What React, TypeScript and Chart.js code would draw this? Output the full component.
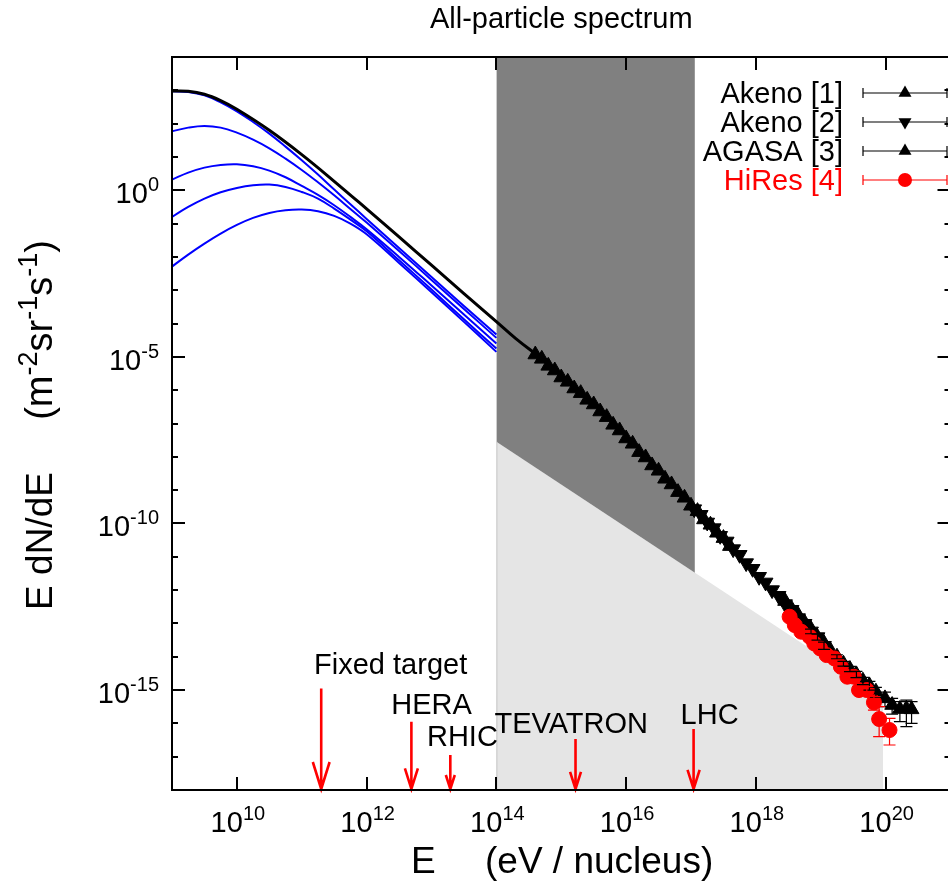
import { useEffect, useRef } from "react";
import { Chart, registerables } from "chart.js";

Chart.register(...registerables);

const FONT = '"Liberation Sans", Arial, Helvetica, sans-serif';

const titleText = "All-particle spectrum";
const xTitleSymbol = "E";
const xTitleUnit = "(eV / nucleus)";
const yTitleMain = "E dN/dE";

// axis ranges (log10)
const xLogMin = 9;
const xLogMax = 21;
const yLogMin = -18;
const yLogMax = 4;

// tick labels (exponents of 10)
const xTickExps = [10, 12, 14, 16, 18, 20];
const yTickExps = [-15, -10, -5, 0];

// total flux model (log10 E, log10 E dN/dE)
const totalLogE = [9.0, 9.25, 9.5, 9.75, 10.0, 10.5, 11.0, 11.5, 12.0, 12.5, 13.0, 13.5, 14.0, 14.3, 14.65];
const totalLogF = [2.98, 2.97, 2.88, 2.69, 2.43, 1.8, 1.07, 0.27, -0.56, -1.4, -2.25, -3.1, -3.94, -4.45, -4.98];

// component curves (blue)
const compLogE = [9.0, 9.25, 9.5, 9.75, 10.0, 10.25, 10.5, 10.75, 11.0, 11.25, 11.5, 11.75, 12.0, 12.5, 13.0, 13.5, 14.0];
const comp1LogF = [2.97, 2.95, 2.85, 2.64, 2.37, 2.05, 1.7, 1.31, 0.9, 0.47, 0.02, -0.42, -0.86, -1.73, -2.6, -3.47, -4.33];
const comp2LogF = [1.77, 1.88, 1.93, 1.88, 1.73, 1.52, 1.26, 0.95, 0.61, 0.24, -0.15, -0.56, -0.97, -1.82, -2.69, -3.56, -4.43];
const comp3LogF = [0.32, 0.53, 0.68, 0.76, 0.78, 0.72, 0.59, 0.39, 0.13, -0.14, -0.45, -0.8, -1.17, -2.0, -2.86, -3.73, -4.6];
const comp4LogF = [-0.8, -0.5, -0.25, -0.06, 0.07, 0.15, 0.17, 0.1, -0.05, -0.25, -0.55, -0.88, -1.23, -2.1, -2.98, -3.87, -4.75];
const comp5LogF = [-2.29, -1.93, -1.6, -1.3, -1.04, -0.83, -0.68, -0.6, -0.58, -0.63, -0.77, -1.0, -1.32, -2.18, -3.06, -3.95, -4.85];

// Akeno [1]
const akeno1LogE = [14.6, 14.7, 14.8, 14.9, 15.0, 15.1, 15.2, 15.3, 15.4, 15.5, 15.6, 15.7, 15.8, 15.9, 16.0, 16.1, 16.2, 16.3, 16.4, 16.5, 16.6, 16.7, 16.8, 16.9, 17.0, 17.1, 17.2, 17.3, 17.4, 17.5, 17.6];
const akeno1LogF = [-4.93, -5.06, -5.27, -5.41, -5.62, -5.75, -5.95, -6.09, -6.29, -6.43, -6.64, -6.81, -7.04, -7.21, -7.45, -7.61, -7.86, -8.02, -8.26, -8.42, -8.66, -8.83, -9.06, -9.23, -9.47, -9.63, -9.88, -10.04, -10.28, -10.44, -10.68];

// Akeno [2]
const akeno2LogE = [17.05, 17.15, 17.25, 17.35, 17.45, 17.55, 17.65, 17.75, 17.85, 17.95, 18.05, 18.15, 18.25, 18.35, 18.45, 18.55, 18.65, 18.75, 18.85, 18.95, 19.05];
const akeno2LogF = [-9.57, -9.74, -9.97, -10.14, -10.37, -10.54, -10.77, -10.94, -11.19, -11.36, -11.6, -11.77, -12.0, -12.17, -12.42, -12.59, -12.84, -13.01, -13.24, -13.41, -13.67];
const akeno2ErrLo = [null, null, null, null, null, null, null, null, null, null, null, null, null, null, null, null, null, null, -13.31, -13.5, -13.78];
const akeno2ErrHi = [null, null, null, null, null, null, null, null, null, null, null, null, null, null, null, null, null, null, -13.17, -13.32, -13.56];

// AGASA [3]
const agasaLogE = [18.45, 18.55, 18.65, 18.75, 18.85, 18.95, 19.05, 19.15, 19.25, 19.35, 19.45, 19.55, 19.65, 19.75, 19.85, 19.99, 20.1, 20.22, 20.32, 20.4];
const agasaLogF = [-12.33, -12.56, -12.74, -12.97, -13.17, -13.41, -13.59, -13.81, -14.0, -14.21, -14.37, -14.53, -14.72, -14.86, -15.05, -15.25, -15.45, -15.57, -15.56, -15.58];
const agasaErrLo = [null, null, null, null, null, null, null, null, -14.06, -14.28, -14.45, -14.63, -14.84, -15.0, -15.22, -15.5, -15.72, -15.95, -16.1, -16.0];
const agasaErrHi = [null, null, null, null, null, null, null, null, -13.94, -14.14, -14.29, -14.44, -14.62, -14.74, -14.92, -15.06, -15.25, -15.35, -15.3, -15.35];

// HiRes [4]
const hiresLogE = [18.52, 18.6, 18.7, 18.83, 18.9, 18.99, 19.09, 19.21, 19.31, 19.41, 19.51, 19.59, 19.71, 19.82, 19.9, 20.06];
const hiresLogF = [-12.8, -13.05, -13.25, -13.4, -13.6, -13.75, -13.95, -14.05, -14.3, -14.6, -14.6, -15.0, -15.0, -15.37, -15.87, -16.2];
const hiresErrLo = [null, null, null, null, null, null, null, null, null, null, null, null, -15.1, -15.6, -16.4, -16.65];
const hiresErrHi = [null, null, null, null, null, null, null, null, null, null, null, null, -14.9, -15.2, -15.5, -15.85];

// shaded regions
const lightLogE = [14.0, 19.96];
const lightLogF = [-7.55, -15.2];
const darkLogE = [14.0, 17.06];
const darkLogF = [-7.55, -11.48];

// accelerator arrows
const arrowNames = ["Fixed target", "HERA", "RHIC", "TEVATRON", "LHC"];
const arrowLogE = [11.3, 12.69, 13.29, 15.22, 17.04];
const arrowTopLogF = [-14.95, -15.95, -16.95, -16.47, -16.17];
const arrowLabelLogE = [11.19, 12.38, 12.93, 13.97, 16.84];
const arrowLabelLogF = [-14.29, -15.49, -16.45, -16.06, -15.79];

const legendLabels = ["Akeno [1]", "Akeno [2]", "AGASA [3]", "HiRes [4]"];

const pts = (xs: number[], ys: number[]) => xs.map((e, i) => ({ x: Math.pow(10, e), y: Math.pow(10, ys[i]) }));

function drawPow(ctx: CanvasRenderingContext2D, exp: string, x: number, yBase: number, align: string) {
  const base = `29px ${FONT}`;
  const sup = `20px ${FONT}`;
  ctx.font = base;
  const wb = ctx.measureText("10").width;
  ctx.font = sup;
  const we = ctx.measureText(exp).width;
  const total = wb + we;
  const x0 = align === "center" ? x - total / 2 : x - total;
  ctx.textAlign = "left";
  ctx.textBaseline = "alphabetic";
  ctx.fillStyle = "#000";
  ctx.font = base;
  ctx.fillText("10", x0, yBase);
  ctx.font = sup;
  ctx.fillText(exp, x0 + wb, yBase - 12);
}

function drawMarker(ctx: CanvasRenderingContext2D, style: string, x: number, y: number, color: string) {
  ctx.fillStyle = color;
  ctx.beginPath();
  if (style === "circle") {
    ctx.arc(x, y, 7, 0, Math.PI * 2);
  } else {
    const r = 7.5;
    const dir = style === "down" ? -1 : 1;
    ctx.moveTo(x, y - dir * r);
    ctx.lineTo(x + r * 0.866, y + dir * r * 0.5);
    ctx.lineTo(x - r * 0.866, y + dir * r * 0.5);
    ctx.closePath();
  }
  ctx.fill();
}

const decorPlugin = {
  id: "decor",
  afterDatasetsDraw(chart: any) {
    const ctx: CanvasRenderingContext2D = chart.ctx;
    const sx = chart.scales.x;
    const sy = chart.scales.y;
    const X = (e: number) => sx.getPixelForValue(Math.pow(10, e));
    const Y = (f: number) => sy.getPixelForValue(Math.pow(10, f));
    const area = chart.chartArea;
    ctx.save();

    // left edge of the light region
    ctx.strokeStyle = "#c4c4c4";
    ctx.lineWidth = 1;
    ctx.beginPath();
    ctx.moveTo(X(lightLogE[0]) + 0.5, Y(lightLogF[0]));
    ctx.lineTo(X(lightLogE[0]) + 0.5, area.bottom);
    ctx.stroke();

    // error bars
    chart.data.datasets.forEach((ds: any, di: number) => {
      if (!ds.errLo) return;
      const meta = chart.getDatasetMeta(di);
      ctx.strokeStyle = ds.borderColor;
      ctx.lineWidth = 1.2;
      meta.data.forEach((el: any, j: number) => {
        const lo = ds.errLo[j];
        const hi = ds.errHi[j];
        if (lo == null || hi == null) return;
        const y1 = Y(lo);
        const y2 = Y(hi);
        ctx.beginPath();
        ctx.moveTo(el.x, y1);
        ctx.lineTo(el.x, y2);
        ctx.moveTo(el.x - 6, y1);
        ctx.lineTo(el.x + 6, y1);
        ctx.moveTo(el.x - 6, y2);
        ctx.lineTo(el.x + 6, y2);
        ctx.stroke();
      });
    });

    // arrows
    ctx.strokeStyle = "#ff0000";
    ctx.lineWidth = 2.6;
    ctx.lineCap = "butt";
    arrowLogE.forEach((e, i) => {
      const x = X(e);
      const yTop = Y(arrowTopLogF[i]);
      const yBot = area.bottom;
      const len = yBot - yTop;
      const head = Math.min(28, 0.2 * len + 8);
      const hw = head * 0.3;
      ctx.beginPath();
      ctx.moveTo(x, yTop);
      ctx.lineTo(x, yBot - 1);
      ctx.moveTo(x - hw, yBot - head);
      ctx.lineTo(x, yBot - 1);
      ctx.lineTo(x + hw, yBot - head);
      ctx.stroke();
      ctx.fillStyle = "#000";
      ctx.font = `29px ${FONT}`;
      ctx.textAlign = "left";
      ctx.textBaseline = "middle";
      ctx.fillText(arrowNames[i], X(arrowLabelLogE[i]), Y(arrowLabelLogF[i]));
    });
    ctx.restore();
  },
  afterDraw(chart: any) {
    const ctx: CanvasRenderingContext2D = chart.ctx;
    const sx = chart.scales.x;
    const sy = chart.scales.y;
    const X = (e: number) => sx.getPixelForValue(Math.pow(10, e));
    const Y = (f: number) => sy.getPixelForValue(Math.pow(10, f));
    const a = chart.chartArea;
    ctx.save();
    ctx.strokeStyle = "#000";
    ctx.lineWidth = 2;
    ctx.strokeRect(a.left, a.top, a.right - a.left, a.bottom - a.top);

    // ticks
    ctx.lineWidth = 2;
    ctx.beginPath();
    for (let e = yLogMin + 1; e < yLogMax; e++) {
      const len = yTickExps.includes(e) ? 13 : 6;
      const y = Math.round(Y(e));
      ctx.moveTo(a.left, y);
      ctx.lineTo(a.left + len, y);
      ctx.moveTo(a.right, y);
      ctx.lineTo(a.right - len, y);
    }
    xTickExps.forEach((e) => {
      const x = Math.round(X(e));
      ctx.moveTo(x, a.bottom);
      ctx.lineTo(x, a.bottom - 13);
      ctx.moveTo(x, a.top);
      ctx.lineTo(x, a.top + 13);
    });
    ctx.stroke();

    // tick labels
    yTickExps.forEach((e) => drawPow(ctx, String(e), a.left - 13, Y(e) + 13, "right"));
    xTickExps.forEach((e) => drawPow(ctx, String(e), X(e) + 1, a.bottom + 42, "center"));

    // title
    ctx.fillStyle = "#000";
    ctx.font = `29px ${FONT}`;
    ctx.textAlign = "center";
    ctx.textBaseline = "alphabetic";
    ctx.fillText(titleText, (a.left + a.right) / 2, 28);

    // x title
    ctx.font = `37px ${FONT}`;
    ctx.textAlign = "left";
    ctx.fillText(xTitleSymbol, 411, 873);
    ctx.fillText(xTitleUnit, 485, 873);

    // y title
    ctx.save();
    ctx.translate(52, 0);
    ctx.rotate(-Math.PI / 2);
    ctx.font = `37px ${FONT}`;
    ctx.textAlign = "center";
    ctx.fillText(yTitleMain, -541, 0);
    const parts: [string, boolean][] = [["(m", false], ["-2", true], ["sr", false], ["-1", true], ["s", false], ["-1", true], [")", false]];
    let total = 0;
    parts.forEach(([t, s]) => {
      ctx.font = s ? `27px ${FONT}` : `38px ${FONT}`;
      total += ctx.measureText(t).width;
    });
    let px = -330 - total / 2;
    ctx.textAlign = "left";
    parts.forEach(([t, s]) => {
      ctx.font = s ? `27px ${FONT}` : `38px ${FONT}`;
      ctx.fillText(t, px, s ? -15 : 0);
      px += ctx.measureText(t).width;
    });
    ctx.restore();

    // legend
    const styles = ["up", "down", "up", "circle"];
    const colors = ["#000", "#000", "#000", "#ff0000"];
    legendLabels.forEach((lab, i) => {
      const yc = 93 + i * 29;
      ctx.fillStyle = colors[i];
      ctx.font = `29px ${FONT}`;
      ctx.textAlign = "right";
      ctx.textBaseline = "alphabetic";
      ctx.fillText(lab, 843, yc + 10);
      ctx.strokeStyle = colors[i];
      ctx.lineWidth = 1.2;
      ctx.beginPath();
      ctx.moveTo(863, yc);
      ctx.lineTo(947, yc);
      ctx.moveTo(863, yc - 5);
      ctx.lineTo(863, yc + 5);
      ctx.moveTo(947, yc - 5);
      ctx.lineTo(947, yc + 5);
      ctx.stroke();
      drawMarker(ctx, styles[i], 905, yc, colors[i]);
    });
    ctx.restore();
  },
};

export default function App() {
  const ref = useRef<HTMLCanvasElement>(null);
  useEffect(() => {
    const canvas = ref.current;
    if (!canvas) return;
    const lineDs = (label: string, xs: number[], ys: number[], color: string, width: number) => ({
      label,
      data: pts(xs, ys),
      borderColor: color,
      backgroundColor: color,
      borderWidth: width,
      pointRadius: 0,
      tension: 0.4,
      fill: false,
      order: 5,
    });
    const pointDs = (label: string, xs: number[], ys: number[], color: string, style: string, radius: number, rot: number, lo?: any[], hi?: any[], order = 2) => ({
      label,
      data: pts(xs, ys),
      showLine: false,
      borderColor: color,
      backgroundColor: color,
      pointStyle: style,
      pointRadius: radius,
      pointBorderWidth: 1,
      pointRotation: rot,
      errLo: lo,
      errHi: hi,
      order,
    });
    const chart = new Chart(canvas, {
      type: "line",
      data: {
        datasets: [
          {
            label: "light",
            data: pts(lightLogE, lightLogF),
            borderWidth: 0,
            borderColor: "rgba(0,0,0,0)",
            backgroundColor: "#e5e5e5",
            pointRadius: 0,
            fill: "start",
            tension: 0,
            order: 20,
          } as any,
          {
            label: "dark",
            data: pts(darkLogE, darkLogF),
            borderWidth: 0,
            borderColor: "rgba(0,0,0,0)",
            backgroundColor: "#808080",
            pointRadius: 0,
            fill: "end",
            tension: 0,
            order: 19,
          } as any,
          lineDs("comp1", compLogE, comp1LogF, "#0000ff", 2),
          lineDs("comp2", compLogE, comp2LogF, "#0000ff", 2),
          lineDs("comp3", compLogE, comp3LogF, "#0000ff", 2),
          lineDs("comp4", compLogE, comp4LogF, "#0000ff", 2),
          lineDs("comp5", compLogE, comp5LogF, "#0000ff", 2),
          { ...lineDs("total", totalLogE, totalLogF, "#000000", 3), order: 4 },
          pointDs("Akeno [1]", akeno1LogE, akeno1LogF, "#000000", "triangle", 8.5, 0, undefined, undefined, 3),
          pointDs("Akeno [2]", akeno2LogE, akeno2LogF, "#000000", "triangle", 8.5, 180, akeno2ErrLo, akeno2ErrHi, 3),
          pointDs("AGASA [3]", agasaLogE, agasaLogF, "#000000", "triangle", 8.5, 0, agasaErrLo, agasaErrHi, 2),
          pointDs("HiRes [4]", hiresLogE, hiresLogF, "#ff0000", "circle", 7.5, 0, hiresErrLo, hiresErrHi, 1),
        ] as any,
      },
      options: {
        animation: false,
        responsive: false,
        devicePixelRatio: 1,
        layout: { padding: { left: 172, top: 57, right: 6, bottom: 96 } },
        plugins: {
          legend: { display: false },
          tooltip: { enabled: false },
          title: { display: false },
        },
        events: [],
        scales: {
          x: {
            type: "logarithmic",
            display: false,
            min: Math.pow(10, xLogMin),
            max: Math.pow(10, xLogMax),
          },
          y: {
            type: "logarithmic",
            display: false,
            min: Math.pow(10, yLogMin),
            max: Math.pow(10, yLogMax),
          },
        },
      } as any,
      plugins: [decorPlugin],
    });
    return () => chart.destroy();
  }, []);
  return (
    <div style={{ position: "fixed", left: 0, top: 0, width: 948, height: 886, overflow: "hidden", background: "#fff" }}>
      <canvas ref={ref} width={960} height={886} style={{ display: "block", width: 960, height: 886 }} />
    </div>
  );
}
